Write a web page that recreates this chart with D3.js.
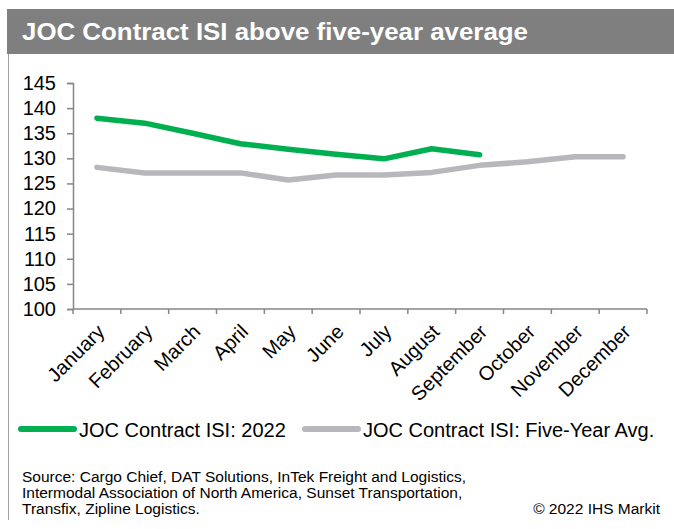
<!DOCTYPE html>
<html>
<head>
<meta charset="utf-8">
<script src="https://cdn.jsdelivr.net/npm/d3@7"></script>
<style>
  body { margin: 0; background: #fff; }
  svg { display: block; font-family: "Liberation Sans", Arial, sans-serif; }
</style>
</head>
<body>
<div id="chart"></div>
<script>
const months = ["January", "February", "March", "April", "May", "June", "July",
  "August", "September", "October", "November", "December"];
const isi2022 = [138.0, 137.0, 135.0, 132.9, 131.8, 130.8, 129.9, 131.9, 130.7];
const fiveYearAvg = [128.2, 127.1, 127.1, 127.1, 125.7, 126.7, 126.7, 127.2, 128.6, 129.3, 130.3, 130.3];
const yTicks = [100, 105, 110, 115, 120, 125, 130, 135, 140, 145];
const seriesNames = ["JOC Contract ISI: 2022", "JOC Contract ISI: Five-Year Avg."];
const sourceLines = [
  "Source: Cargo Chief, DAT Solutions, InTek Freight and Logistics,",
  "Intermodal Association of North America, Sunset Transportation,",
  "Transfix, Zipline Logistics."
];

const width = 674, height = 529;
const green = "#00b050", grey = "#b8b8bc", axisCol = "#868686";

const svg = d3.select("#chart").append("svg")
  .attr("width", width)
  .attr("height", height);

// title banner + left frame line
svg.append("rect")
  .attr("x", 7).attr("y", 9)
  .attr("width", width - 7).attr("height", 45)
  .attr("fill", "#7f7f7f");
svg.append("line")
  .attr("x1", 8.5).attr("x2", 8.5)
  .attr("y1", 54).attr("y2", 520)
  .attr("stroke", "#a0a0a0");
svg.append("text")
  .attr("x", 22).attr("y", 40)
  .attr("fill", "#fff")
  .attr("font-size", 24).attr("font-weight", "bold")
  .attr("textLength", 506).attr("lengthAdjust", "spacingAndGlyphs")
  .text("JOC Contract ISI above five-year average");

// scales
const x = d3.scaleBand().domain(months).range([73, 647]);
const y = d3.scaleLinear().domain([100, 145]).range([309, 83]);
const cx = m => x(m) + x.bandwidth() / 2;

// y axis
const yAxis = svg.append("g")
  .attr("transform", "translate(73,0)")
  .call(d3.axisLeft(y).tickValues(yTicks).tickSize(6).tickPadding(11));
yAxis.select(".domain").attr("stroke", axisCol).attr("stroke-width", 1.5);
yAxis.selectAll(".tick line").attr("stroke", axisCol).attr("stroke-width", 1.5);
yAxis.selectAll(".tick text")
  .attr("font-size", 20).attr("fill", "#000")
  .attr("font-family", "Liberation Sans, Arial, sans-serif");

// x axis: ticks at category boundaries
const xg = svg.append("g");
xg.append("line")
  .attr("x1", 73).attr("x2", 647)
  .attr("y1", 309).attr("y2", 309)
  .attr("stroke", axisCol).attr("stroke-width", 1.5);
xg.selectAll("line.tk")
  .data(months.map(m => x(m)).concat([x.range()[1]]))
  .join("line")
  .attr("class", "tk")
  .attr("x1", d => d).attr("x2", d => d)
  .attr("y1", 309).attr("y2", 314)
  .attr("stroke", axisCol).attr("stroke-width", 1.5);
xg.selectAll("text")
  .data(months)
  .join("text")
  .attr("transform", d => `translate(${cx(d) + 4},${328}) rotate(-45)`)
  .attr("text-anchor", "end")
  .attr("dy", "0.35em")
  .attr("font-size", 20)
  .text(d => d);

// lines
const line = d3.line()
  .x((d, i) => cx(months[i]))
  .y(d => y(d));

svg.append("path")
  .datum(fiveYearAvg)
  .attr("d", line)
  .attr("fill", "none")
  .attr("stroke", grey)
  .attr("stroke-width", 5.5)
  .attr("stroke-linecap", "round")
  .attr("stroke-linejoin", "round");

svg.append("path")
  .datum(isi2022)
  .attr("d", line)
  .attr("fill", "none")
  .attr("stroke", green)
  .attr("stroke-width", 5.5)
  .attr("stroke-linecap", "round")
  .attr("stroke-linejoin", "round");

// legend
const legend = svg.append("g");
const legendX = [21, 305];
[green, grey].forEach((c, i) => {
  legend.append("line")
    .attr("x1", legendX[i]).attr("x2", legendX[i] + 53)
    .attr("y1", 429).attr("y2", 429)
    .attr("stroke", c).attr("stroke-width", 6)
    .attr("stroke-linecap", "round");
  legend.append("text")
    .attr("x", legendX[i] + 58).attr("y", 437)
    .attr("font-size", 20)
    .text(seriesNames[i]);
});

// source + copyright
svg.append("g").selectAll("text")
  .data(sourceLines)
  .join("text")
  .attr("x", 22)
  .attr("y", (d, i) => 482 + i * 16)
  .attr("font-size", 15.5)
  .text(d => d);

svg.append("text")
  .attr("x", 660).attr("y", 514)
  .attr("text-anchor", "end")
  .attr("font-size", 15.5)
  .text("© 2022 IHS Markit");
</script>
</body>
</html>
